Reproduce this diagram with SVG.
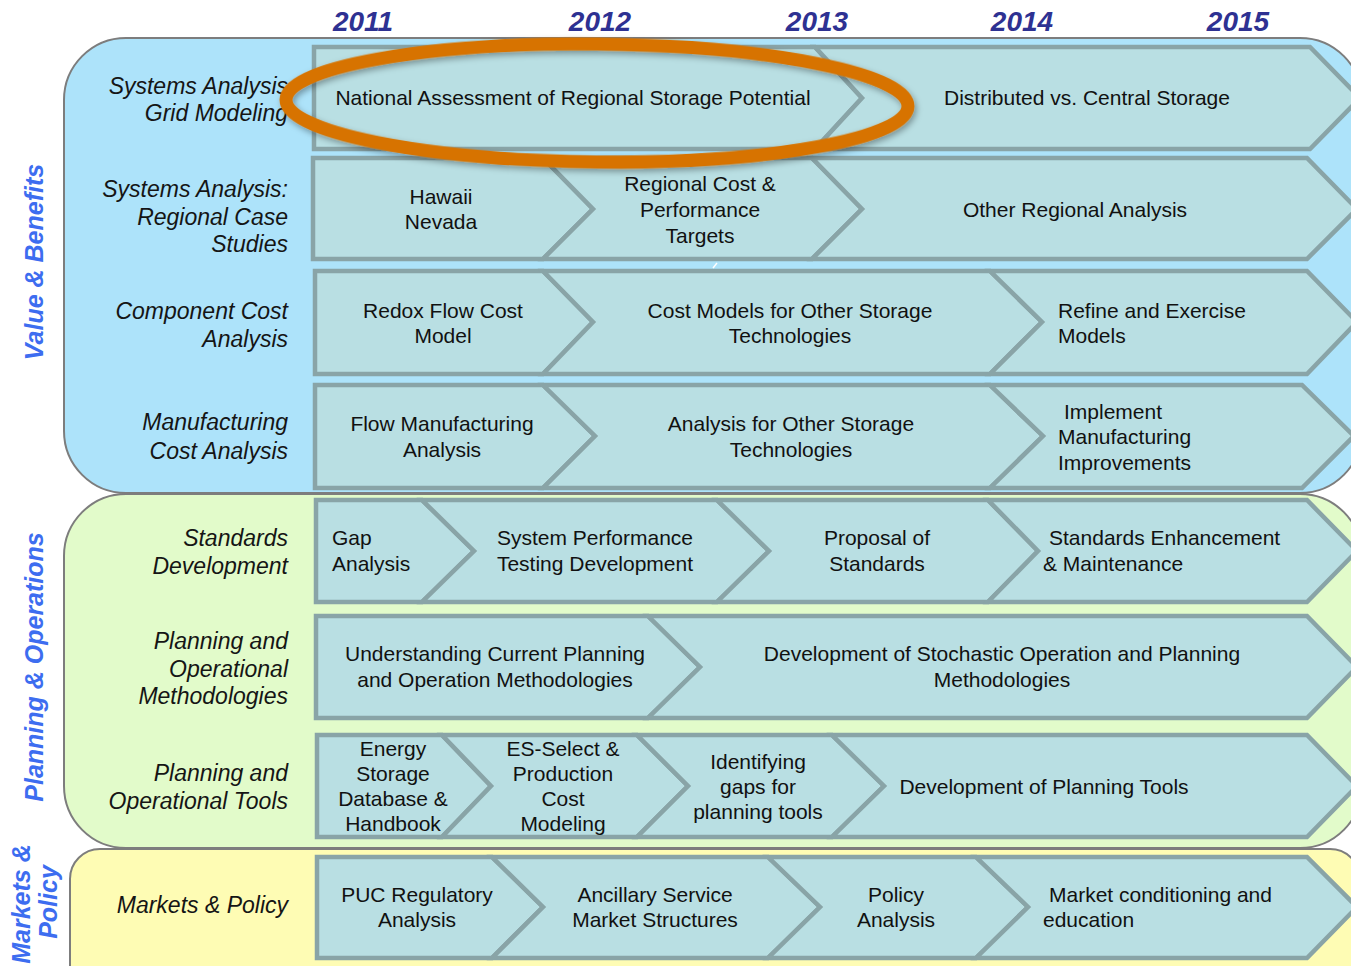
<svg xmlns="http://www.w3.org/2000/svg" width="1351" height="966" viewBox="0 0 1351 966">
  <style>
    .panel { stroke: #7d7d7d; stroke-width: 2; }
    .ch { fill: #B9DFE3; stroke: #89A4A7; stroke-width: 4.5; stroke-linejoin: miter; }
    .t { font-family: "Liberation Sans", Arial, sans-serif; font-size: 21px; fill: #111; }
    .c { text-anchor: middle; }
    .lbl { font-family: "Liberation Sans", Arial, sans-serif; font-size: 23px; font-style: italic; fill: #151515; text-anchor: end; }
    .yr { font-family: "Liberation Sans", Arial, sans-serif; font-size: 28px; font-weight: bold; font-style: italic; fill: #2E3192; text-anchor: middle; }
    .side { font-family: "Liberation Sans", Arial, sans-serif; font-size: 25px; font-weight: bold; font-style: italic; fill: #3D6DF0; text-anchor: middle; }
  </style>
  <defs>
    <filter id="shadow" x="-10%" y="-30%" width="120%" height="160%">
      <feDropShadow dx="2" dy="3" stdDeviation="3" flood-color="#000" flood-opacity="0.35"/>
    </filter>
  </defs>

  <rect width="1351" height="966" fill="#ffffff"/>

  <!-- year header -->
  <g id="years">
    <text class="yr" x="363" y="31">2011</text>
    <text class="yr" x="600" y="31">2012</text>
    <text class="yr" x="817" y="31">2013</text>
    <text class="yr" x="1022" y="31">2014</text>
    <text class="yr" x="1238" y="31">2015</text>
  </g>

  <!-- swimlane panels -->
  <g id="panels">
    <path id="panel-value" class="panel" fill="#ADE3FA" d="M126,38 H1300 A62,62 0 0 1 1362,100 V431 A62,62 0 0 1 1300,493 H126 A62,62 0 0 1 64,431 V100 A62,62 0 0 1 126,38 Z"/>
    <path id="panel-planning" class="panel" fill="#E2FBCA" d="M126,494 H1300 A62,62 0 0 1 1362,556 V786 A62,62 0 0 1 1300,848 H126 A62,62 0 0 1 64,786 V556 A62,62 0 0 1 126,494 Z"/>
    <path id="panel-markets" class="panel" fill="#FEFCB4" d="M100,849 H1330 A30,30 0 0 1 1360,879 V1000 H70 V879 A30,30 0 0 1 100,849 Z"/>
  </g>

  <!-- lane titles -->
  <g id="lane-titles">
    <text class="side" transform="translate(43,262) rotate(-90)">Value &amp; Benefits</text>
    <text class="side" transform="translate(43,667) rotate(-90)">Planning &amp; Operations</text>
    <text class="side" transform="translate(30,904) rotate(-90)">Markets &amp;</text>
    <text class="side" transform="translate(57,902) rotate(-90)">Policy</text>
  </g>

  <!-- row labels -->
  <g id="row-labels">
    <text class="lbl" x="288" y="94">Systems Analysis</text>
    <text class="lbl" x="288" y="121">Grid Modeling</text>
    <text class="lbl" x="288" y="197">Systems Analysis:</text>
    <text class="lbl" x="288" y="225">Regional Case</text>
    <text class="lbl" x="288" y="252">Studies</text>
    <text class="lbl" x="288" y="319">Component Cost</text>
    <text class="lbl" x="288" y="347">Analysis</text>
    <text class="lbl" x="288" y="430">Manufacturing</text>
    <text class="lbl" x="288" y="459">Cost Analysis</text>
    <text class="lbl" x="288" y="546">Standards</text>
    <text class="lbl" x="288" y="574">Development</text>
    <text class="lbl" x="288" y="649">Planning and</text>
    <text class="lbl" x="288" y="677">Operational</text>
    <text class="lbl" x="288" y="704">Methodologies</text>
    <text class="lbl" x="288" y="781">Planning and</text>
    <text class="lbl" x="288" y="809">Operational Tools</text>
    <text class="lbl" x="288" y="913">Markets &amp; Policy</text>
  </g>

  <!-- row 1: grid modeling -->
  <g id="r1a">
    <path class="ch" d="M314,47 H815 L862,98 L815,149 H314 Z"/>
    <text class="t c" x="573" y="105">National Assessment of Regional Storage Potential</text>
  </g>
  <g id="r1b">
    <path class="ch" d="M815,47 H1310 L1360,98 L1310,149 H815 L862,98 Z"/>
    <text class="t c" x="1087" y="105">Distributed vs. Central Storage</text>
  </g>

  <!-- row 2: regional case studies -->
  <g id="r2a">
    <path class="ch" d="M313,158 H543 L593,209 L543,259 H313 Z"/>
    <text class="t c" x="441" y="204">Hawaii</text>
    <text class="t c" x="441" y="229">Nevada</text>
  </g>
  <g id="r2b">
    <path class="ch" d="M543,158 H812 L862,209 L812,259 H543 L593,209 Z"/>
    <text class="t c" x="700" y="191">Regional Cost &amp;</text>
    <text class="t c" x="700" y="217">Performance</text>
    <text class="t c" x="700" y="243">Targets</text>
  </g>
  <g id="r2c">
    <path class="ch" d="M812,158 H1307 L1357,209 L1307,259 H812 L862,209 Z"/>
    <text class="t c" x="1075" y="217">Other Regional Analysis</text>
  </g>

  <!-- row 3: component cost -->
  <g id="r3a">
    <path class="ch" d="M315,271 H543 L593,322 L543,374 H315 Z"/>
    <text class="t c" x="443" y="318">Redox Flow Cost</text>
    <text class="t c" x="443" y="343">Model</text>
  </g>
  <g id="r3b">
    <path class="ch" d="M543,271 H990 L1042,322 L990,374 H543 L593,322 Z"/>
    <text class="t c" x="790" y="318">Cost Models for Other Storage</text>
    <text class="t c" x="790" y="343">Technologies</text>
  </g>
  <g id="r3c">
    <path class="ch" d="M990,271 H1307 L1357,322 L1307,374 H990 L1042,322 Z"/>
    <text class="t" x="1058" y="318">Refine and Exercise</text>
    <text class="t" x="1058" y="343">Models</text>
  </g>

  <!-- row 4: manufacturing cost -->
  <g id="r4a">
    <path class="ch" d="M315,385 H543 L595,436 L543,488 H315 Z"/>
    <text class="t c" x="442" y="431">Flow Manufacturing</text>
    <text class="t c" x="442" y="457">Analysis</text>
  </g>
  <g id="r4b">
    <path class="ch" d="M543,385 H990 L1043,436 L990,488 H543 L595,436 Z"/>
    <text class="t c" x="791" y="431">Analysis for Other Storage</text>
    <text class="t c" x="791" y="457">Technologies</text>
  </g>
  <g id="r4c">
    <path class="ch" d="M990,385 H1302 L1354,436 L1302,488 H990 L1043,436 Z"/>
    <text class="t" x="1064" y="419">Implement</text>
    <text class="t" x="1058" y="444">Manufacturing</text>
    <text class="t" x="1058" y="470">Improvements</text>
  </g>

  <!-- row 5: standards -->
  <g id="r5a">
    <path class="ch" d="M316,500 H422 L474,551 L422,602 H316 Z"/>
    <text class="t" x="332" y="545">Gap</text>
    <text class="t" x="332" y="571">Analysis</text>
  </g>
  <g id="r5b">
    <path class="ch" d="M422,500 H717 L769,551 L717,602 H422 L474,551 Z"/>
    <text class="t c" x="595" y="545">System Performance</text>
    <text class="t c" x="595" y="571">Testing Development</text>
  </g>
  <g id="r5c">
    <path class="ch" d="M717,500 H988 L1038,551 L988,602 H717 L769,551 Z"/>
    <text class="t c" x="877" y="545">Proposal of</text>
    <text class="t c" x="877" y="571">Standards</text>
  </g>
  <g id="r5d">
    <path class="ch" d="M988,500 H1307 L1357,551 L1307,602 H988 L1038,551 Z"/>
    <text class="t" x="1049" y="545">Standards Enhancement</text>
    <text class="t" x="1043" y="571">&amp; Maintenance</text>
  </g>

  <!-- row 6: operational methodologies -->
  <g id="r6a">
    <path class="ch" d="M316,616 H648 L700,667 L648,718 H316 Z"/>
    <text class="t c" x="495" y="661">Understanding Current Planning</text>
    <text class="t c" x="495" y="687">and Operation Methodologies</text>
  </g>
  <g id="r6b">
    <path class="ch" d="M648,616 H1307 L1357,667 L1307,718 H648 L700,667 Z"/>
    <text class="t c" x="1002" y="661">Development of Stochastic Operation and Planning</text>
    <text class="t c" x="1002" y="687">Methodologies</text>
  </g>

  <!-- row 7: operational tools -->
  <g id="r7a">
    <path class="ch" d="M317,735 H442 L491,786 L442,837 H317 Z"/>
    <text class="t c" x="393" y="756">Energy</text>
    <text class="t c" x="393" y="781">Storage</text>
    <text class="t c" x="393" y="806">Database &amp;</text>
    <text class="t c" x="393" y="831">Handbook</text>
  </g>
  <g id="r7b">
    <path class="ch" d="M442,735 H637 L688,786 L637,837 H442 L491,786 Z"/>
    <text class="t c" x="563" y="756">ES-Select &amp;</text>
    <text class="t c" x="563" y="781">Production</text>
    <text class="t c" x="563" y="806">Cost</text>
    <text class="t c" x="563" y="831">Modeling</text>
  </g>
  <g id="r7c">
    <path class="ch" d="M637,735 H832 L884,786 L832,837 H637 L688,786 Z"/>
    <text class="t c" x="758" y="769">Identifying</text>
    <text class="t c" x="758" y="794">gaps for</text>
    <text class="t c" x="758" y="819">planning tools</text>
  </g>
  <g id="r7d">
    <path class="ch" d="M832,735 H1307 L1357,786 L1307,837 H832 L884,786 Z"/>
    <text class="t c" x="1044" y="794">Development of Planning Tools</text>
  </g>

  <!-- row 8: markets and policy -->
  <g id="r8a">
    <path class="ch" d="M317,857 H492 L543,907 L492,958 H317 Z"/>
    <text class="t c" x="417" y="902">PUC Regulatory</text>
    <text class="t c" x="417" y="927">Analysis</text>
  </g>
  <g id="r8b">
    <path class="ch" d="M492,857 H768 L820,907 L768,958 H492 L543,907 Z"/>
    <text class="t c" x="655" y="902">Ancillary Service</text>
    <text class="t c" x="655" y="927">Market Structures</text>
  </g>
  <g id="r8c">
    <path class="ch" d="M768,857 H976 L1028,907 L976,958 H768 L820,907 Z"/>
    <text class="t c" x="896" y="902">Policy</text>
    <text class="t c" x="896" y="927">Analysis</text>
  </g>
  <g id="r8d">
    <path class="ch" d="M976,857 H1307 L1357,907 L1307,958 H976 L1028,907 Z"/>
    <text class="t" x="1049" y="902">Market conditioning and</text>
    <text class="t" x="1043" y="927">education</text>
  </g>

  <!-- small mark between rows 2 and 3 -->
  <line x1="713" y1="268" x2="717" y2="263" stroke="#ffffff" stroke-width="1.5"/>

  <!-- highlight ring around the national assessment -->
  <g id="highlight">
    <ellipse cx="597" cy="103" rx="311" ry="59" fill="none" stroke="#D77300" stroke-width="13" transform="rotate(0.6 597 103)" filter="url(#shadow)"/>
  </g>
</svg>
